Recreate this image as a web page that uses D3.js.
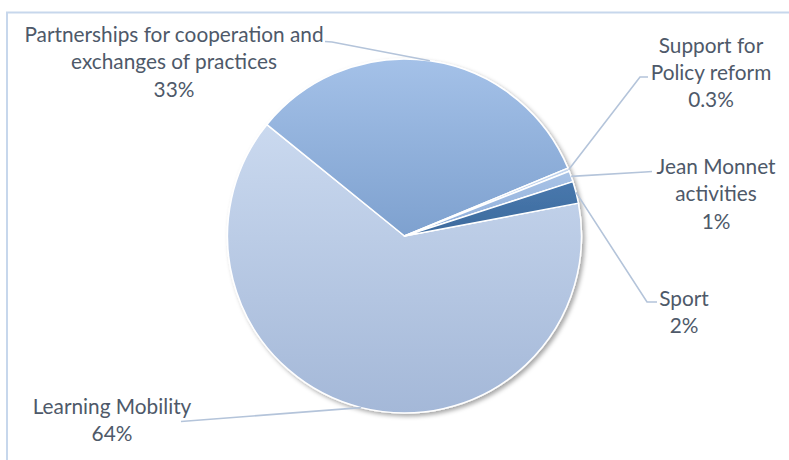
<!DOCTYPE html>
<html>
<head>
<meta charset="utf-8">
<script src="https://cdn.jsdelivr.net/npm/d3@7/dist/d3.min.js"></script>
<style>
  html, body { margin: 0; padding: 0; background: #ffffff; }
  svg { display: block; }
</style>
</head>
<body>
<svg id="chart" width="789" height="460"></svg>
<script>
// Budget shares by action
const categories = [
  "Learning Mobility",
  "Partnerships for cooperation and exchanges of practices",
  "Support for Policy reform",
  "Jean Monnet activities",
  "Sport"
];
const values = [64, 33, 0.3, 1, 2];
const valueLabels = ["64%", "33%", "0.3%", "1%", "2%"];
const labelLines = [
  ["Learning Mobility"],
  ["Partnerships for cooperation and", "exchanges of practices"],
  ["Support for", "Policy reform"],
  ["Jean Monnet", "activities"],
  ["Sport"]
];

// Slice fills: top and bottom colour of each slice's vertical gradient
const fillTop =    ["#cad9ef", "#a4c1e8", "#c3d5ee", "#a9c3e6", "#4878ad"];
const fillBottom = ["#a4b8d8", "#7ea1cf", "#b2c8e6", "#8eaedb", "#3d6a9d"];

const width = 789, height = 460;
const cx = 404.5, cy = 236, radius = 177;
const startDeg = 79.3;

// Label blocks: centre x, first line centre y, and leader-line elbow points
const layout = [
  { x: 112, y: 405, anchor: "middle", elbow: [[181, 421.5]] },
  { x: 174, y: 33, anchor: "middle", elbow: [[332, 42], [325, 41.5]] },
  { x: 711, y: 43.5, anchor: "middle", elbow: [[640, 77], [648, 77]] },
  { x: 716, y: 165, anchor: "middle", elbow: [[645, 172], [652, 171.5]] },
  { x: 684, y: 296.5, anchor: "middle", elbow: [[647, 302], [657, 302]] }
];
const lineHeight = 27.3;

const svg = d3.select("#chart");
const defs = svg.append("defs");

// soft drop shadow around the pie
const shadow = defs.append("filter").attr("id", "pieShadow")
  .attr("x", "-10%").attr("y", "-10%").attr("width", "125%").attr("height", "125%");
shadow.append("feDropShadow")
  .attr("dx", 2.5).attr("dy", 2.5).attr("stdDeviation", 2.2)
  .attr("flood-color", "#000").attr("flood-opacity", 0.35);

categories.forEach((c, i) => {
  const g = defs.append("linearGradient").attr("id", "grad" + i)
    .attr("x1", 0).attr("y1", 0).attr("x2", 0).attr("y2", 1);
  g.append("stop").attr("offset", "0%").attr("stop-color", fillTop[i]);
  g.append("stop").attr("offset", "100%").attr("stop-color", fillBottom[i]);
});

// chart frame, running past the right and bottom of the view
svg.append("rect")
  .attr("x", 7).attr("y", 12.5)
  .attr("width", 800).attr("height", 460)
  .attr("fill", "none")
  .attr("stroke", "#c7d7ec")
  .attr("stroke-width", 2);

const pie = d3.pie()
  .sort(null)
  .value(d => d)
  .startAngle(startDeg * Math.PI / 180)
  .endAngle(startDeg * Math.PI / 180 + 2 * Math.PI);
const arcs = pie(values);

const arc = d3.arc().innerRadius(0).outerRadius(radius);
const outerPoint = (d, r) => {
  const a = (d.startAngle + d.endAngle) / 2;
  return [cx + r * Math.sin(a), cy - r * Math.cos(a)];
};

const pieG = svg.append("g")
  .attr("transform", `translate(${cx},${cy})`)
  .attr("filter", "url(#pieShadow)");

pieG.selectAll("path.slice")
  .data(arcs)
  .join("path")
  .attr("class", "slice")
  .attr("d", arc)
  .attr("fill", (d, i) => `url(#grad${i})`)
  .attr("stroke", "#ffffff")
  .attr("stroke-width", 1.5)
  .attr("stroke-linejoin", "round");

// leader lines from each slice's rim to its label
const leaderG = svg.append("g");
arcs.forEach((d, i) => {
  const pts = [outerPoint(d, radius)].concat(layout[i].elbow);
  leaderG.append("path")
    .attr("d", d3.line()(pts))
    .attr("fill", "none")
    .attr("stroke", "#b4c4da")
    .attr("stroke-width", 1.6);
});

// data labels
const labelG = svg.append("g")
  .attr("font-family", "Lato, 'Open Sans', sans-serif")
  .attr("font-size", 20.8)
  .attr("fill", "#4e5969");

arcs.forEach((d, i) => {
  const lines = labelLines[i].concat([valueLabels[i]]);
  const t = labelG.append("text")
    .attr("text-anchor", layout[i].anchor)
    .attr("dominant-baseline", "central");
  lines.forEach((ln, k) => {
    t.append("tspan")
      .attr("x", layout[i].x)
      .attr("y", layout[i].y + k * lineHeight)
      .text(ln);
  });
});
</script>
</body>
</html>
